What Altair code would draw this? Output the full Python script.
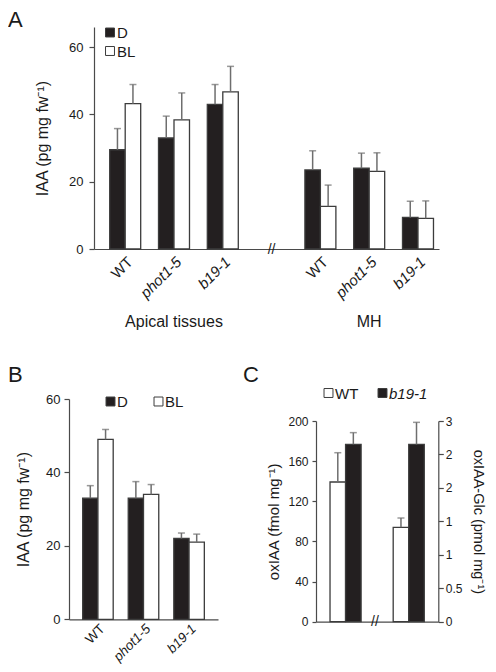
import altair as alt
import pandas as pd

# ---------------- data ----------------
# Panel A: IAA in apical tissues and MH, dark (D) vs blue light (BL)
a_tissues = ["Apical tissues", "MH"]
a_genotypes = ["WT", "phot1-5", "b19-1"]
a_D_mean = [29.5, 33.0, 43.0, 23.5, 24.0, 9.4]
a_D_err = [6.3, 6.5, 5.9, 5.7, 4.5, 4.8]
a_BL_mean = [43.2, 38.4, 46.7, 12.7, 23.1, 9.1]
a_BL_err = [5.7, 8.0, 7.6, 6.3, 5.5, 5.2]
a_y_ticks = [0, 20, 40, 60]

# Panel B
b_genotypes = ["WT", "phot1-5", "b19-1"]
b_D_mean = [33.0, 33.0, 22.0]
b_D_err = [3.4, 4.5, 1.5]
b_BL_mean = [49.0, 34.0, 21.0]
b_BL_err = [2.7, 2.7, 2.2]
b_y_ticks = [0, 20, 40, 60]

# Panel C
c_genotypes = ["WT", "b19-1"]
c_groups = ["oxIAA", "oxIAA-Glc"]
c_oxIAA_mean = [139.2, 176.8]
c_oxIAA_err = [29.2, 11.6]
c_glc_mean = [1.41, 2.65]
c_glc_err = [0.14, 0.33]
c_left_ticks = [0, 40, 80, 120, 160, 200]
c_right_ticks = [0, 0.5, 1, 1.5, 2, 2.5, 3]
c_right_tick_labels = ["0", "0.5", "1", "1", "2", "2", "3"]

# ---------------- styling ----------------
FONT = "Liberation Sans"
BLACK = "#231f20"
AXC = "#4a4a4a"
ERRC = "#6e6e6e"
BARSTROKE = "#3c3c3c"
TXT = "#1a1a1a"
W, H = 480, 656

one = pd.DataFrame({"k": [0]})

italic_cond = {"condition": {"test": "indexof(datum.value, 'WT') >= 0", "value": "normal"},
               "value": "italic"}


def square(x, y, fill):
    return alt.Chart(one).mark_square(size=80, fill=fill, stroke=BARSTROKE, strokeWidth=1,
                                      opacity=1).encode(x=alt.value(x), y=alt.value(y))


def label(x, y, text, size=14, style="normal", align="left", baseline="middle", angle=0):
    return alt.Chart(one).mark_text(text=text, fontSize=size, fontStyle=style, align=align,
                                    baseline=baseline, angle=angle, font=FONT,
                                    color=TXT).encode(x=alt.value(x), y=alt.value(y))


def bar_layers(df, x, y_mean, y_hi, xoff, fill):
    bars = alt.Chart(df).mark_bar(stroke=BARSTROKE, strokeWidth=1.3).encode(
        x=x, xOffset=xoff, y=y_mean, fill=fill)
    rules = alt.Chart(df).mark_rule(color=ERRC, strokeWidth=1.5).encode(
        x=x, xOffset=xoff, y=y_mean, y2="hi:Q")
    caps = alt.Chart(df).mark_tick(color=ERRC, thickness=1.5, size=7).encode(
        x=x, xOffset=xoff, y=y_hi)
    return [bars, rules, caps]


# ---------------- Panel A ----------------
a_keys = [f"{t}|{g}" for t in a_tissues for g in a_genotypes]
a_domain = a_keys[:3] + ["gap|"] + a_keys[3:]
rowsA = []
for i, k in enumerate(a_keys):
    rowsA.append({"key": k, "s": "D", "mean": a_D_mean[i], "hi": a_D_mean[i] + a_D_err[i]})
    rowsA.append({"key": k, "s": "BL", "mean": a_BL_mean[i], "hi": a_BL_mean[i] + a_BL_err[i]})
dfA = pd.DataFrame(rowsA)

axisAx = alt.Axis(orient="bottom", offset=241 - H, labelAngle=-45, ticks=False, labelPadding=5,
                  labelFontSize=15, labelExpr="split(datum.value, '|')[1]",
                  labelFontStyle=italic_cond, title=None)
scaleAx = alt.Scale(domain=a_domain, range=[86, 431], paddingInner=0.365, paddingOuter=0.2175,
                    align=0.74)
xA = alt.X("key:N", scale=scaleAx, axis=axisAx, title=None)
axisAy = alt.Axis(orient="left", offset=-86, values=a_y_ticks, title="IAA (pg mg fw\u207b\u00b9)",
                  titlePadding=18, labelPadding=6, tickSize=5, labelFontSize=13, titleFontSize=16)
scaleAy = alt.Scale(domain=[0, 66], range=[241, 19], nice=False, zero=True)
yA = alt.Y("mean:Q", scale=scaleAy, axis=axisAy)
yAhi = alt.Y("hi:Q", scale=scaleAy, axis=axisAy)
xoffA = alt.XOffset("s:N", scale=alt.Scale(domain=["D", "BL"]))
fillA = alt.condition("datum.s == 'D'", alt.value(BLACK), alt.value("white"))

grpA = pd.DataFrame({"key": [f"{t}|phot1-5" for t in a_tissues], "label": a_tissues})
groupTextA = alt.Chart(grpA).mark_text(fontSize=16, font=FONT, color=TXT, baseline="middle").encode(
    x=xA, y=alt.value(314), text="label:N")
breakA = alt.Chart(pd.DataFrame({"key": ["gap|"], "t": ["//"]})).mark_text(
    fontSize=14, font=FONT, color=TXT, baseline="middle").encode(x=xA, y=alt.value(242), text="t:N")

panelA = alt.layer(
    *bar_layers(dfA, xA, yA, yAhi, xoffA, fillA),
    groupTextA, breakA,
    square(102, 24.5, BLACK), label(109, 25, "D", size=15),
    square(102, 43, "white"), label(109, 43.5, "BL", size=15),
)

# ---------------- Panel B ----------------
rowsB = []
for i, g in enumerate(b_genotypes):
    rowsB.append({"key": g, "s": "D", "mean": b_D_mean[i], "hi": b_D_mean[i] + b_D_err[i]})
    rowsB.append({"key": g, "s": "BL", "mean": b_BL_mean[i], "hi": b_BL_mean[i] + b_BL_err[i]})
dfB = pd.DataFrame(rowsB)

axisBx = alt.Axis(orient="bottom", offset=611.3 - H, labelAngle=-45, ticks=False, labelPadding=2,
                  labelFontSize=13.5, labelFontStyle=italic_cond, title=None)
scaleBx = alt.Scale(domain=b_genotypes, range=[61, 210], paddingInner=0.33, paddingOuter=0.3)
xB = alt.X("key:N", scale=scaleBx, axis=axisBx, title=None)
axisBy = alt.Axis(orient="left", offset=-61, values=b_y_ticks, title="IAA (pg mg fw\u207b\u00b9)",
                  titlePadding=14, labelPadding=4, tickSize=5, labelFontSize=13, titleFontSize=16)
scaleBy = alt.Scale(domain=[0, 60], range=[611.3, 391], nice=False, zero=True)
yB = alt.Y("mean:Q", scale=scaleBy, axis=axisBy)
yBhi = alt.Y("hi:Q", scale=scaleBy, axis=axisBy)
xoffB = alt.XOffset("s:N", scale=alt.Scale(domain=["D", "BL"]))
fillB = alt.condition("datum.s == 'D'", alt.value(BLACK), alt.value("white"))

panelB = alt.layer(
    *bar_layers(dfB, xB, yB, yBhi, xoffB, fillB),
    square(102.5, 393.5, BLACK), label(109, 394, "D", size=15),
    square(150.5, 393.5, "white"), label(157, 394, "BL", size=15),
)

# ---------------- Panel C ----------------
dfCL = pd.DataFrame({"grp": c_groups[0], "s": c_genotypes, "mean": c_oxIAA_mean,
                     "hi": [m + e for m, e in zip(c_oxIAA_mean, c_oxIAA_err)]})
dfCR = pd.DataFrame({"grp": c_groups[1], "s": c_genotypes, "mean": c_glc_mean,
                     "hi": [m + e for m, e in zip(c_glc_mean, c_glc_err)]})

axisCx = alt.Axis(orient="bottom", offset=613.7 - H, labels=False, ticks=False, title=None)
scaleCx = alt.Scale(domain=c_groups, range=[308, 430.3], paddingInner=0.508, paddingOuter=0.222)
xC = alt.X("grp:N", scale=scaleCx, axis=axisCx, title=None)
xoffC = alt.XOffset("s:N", scale=alt.Scale(domain=c_genotypes))
fillC = alt.condition("datum.s == 'WT'", alt.value("white"), alt.value(BLACK))

axisCL = alt.Axis(orient="left", offset=-308, values=c_left_ticks, title="oxIAA (fmol mg\u207b\u00b9)",
                  titlePadding=6, labelPadding=4, tickSize=4, labelFontSize=12, titleFontSize=15)
scaleCL = alt.Scale(domain=[0, 200], range=[613.7, 413], nice=False, zero=True)
yCL = alt.Y("mean:Q", scale=scaleCL, axis=axisCL)
yCLhi = alt.Y("hi:Q", scale=scaleCL, axis=axisCL)

right_expr = " : ".join(
    [f"datum.value == {v} ? '{t}'" for v, t in zip(c_right_ticks, c_right_tick_labels)]) + " : datum.label"
axisCR = alt.Axis(orient="right", offset=430.3 - W, values=c_right_ticks, labelExpr=right_expr,
                  title="oxIAA-Glc (pmol mg\u207b\u00b9)", titlePadding=9, labelPadding=2, tickSize=5,
                  labelFontSize=12, titleFontSize=14.5)
scaleCR = alt.Scale(domain=[0, 3], range=[613.7, 413], nice=False, zero=True)
yCR = alt.Y("mean:Q", scale=scaleCR, axis=axisCR)
yCRhi = alt.Y("hi:Q", scale=scaleCR, axis=axisCR)

cLeft = alt.layer(*bar_layers(dfCL, xC, yCL, yCLhi, xoffC, fillC))
cRight = alt.layer(*bar_layers(dfCR, xC, yCR, yCRhi, xoffC, fillC))
panelC = alt.layer(
    cLeft, cRight,
    label(367, 614, "//", size=14, align="center"),
    square(320.5, 385, "white"), label(327, 385.5, "WT", size=15),
    square(374.5, 385, BLACK), label(381, 385.5, "b19-1", size=15, style="italic"),
).resolve_scale(y="independent")

letters = alt.layer(
    label(0, 18.5, "A", size=22, baseline="alphabetic"),
    label(0, 373.5, "B", size=22, baseline="alphabetic"),
    label(235, 373.5, "C", size=22, baseline="alphabetic"),
)

chart = alt.layer(panelA, panelB, panelC, letters).resolve_scale(
    x="independent", y="independent", xOffset="independent"
).properties(
    width=W, height=H, autosize=alt.AutoSizeParams(type="none"), padding=0
).configure_view(stroke=None).configure_axis(
    grid=False, labelFont=FONT, titleFont=FONT, labelColor=TXT, titleColor=TXT,
    domainColor=AXC, tickColor=AXC, domainWidth=1.2, tickWidth=1.2, titleFontWeight="normal"
)

chart.save("out.html", embed_options={"renderer": "svg", "actions": False})
